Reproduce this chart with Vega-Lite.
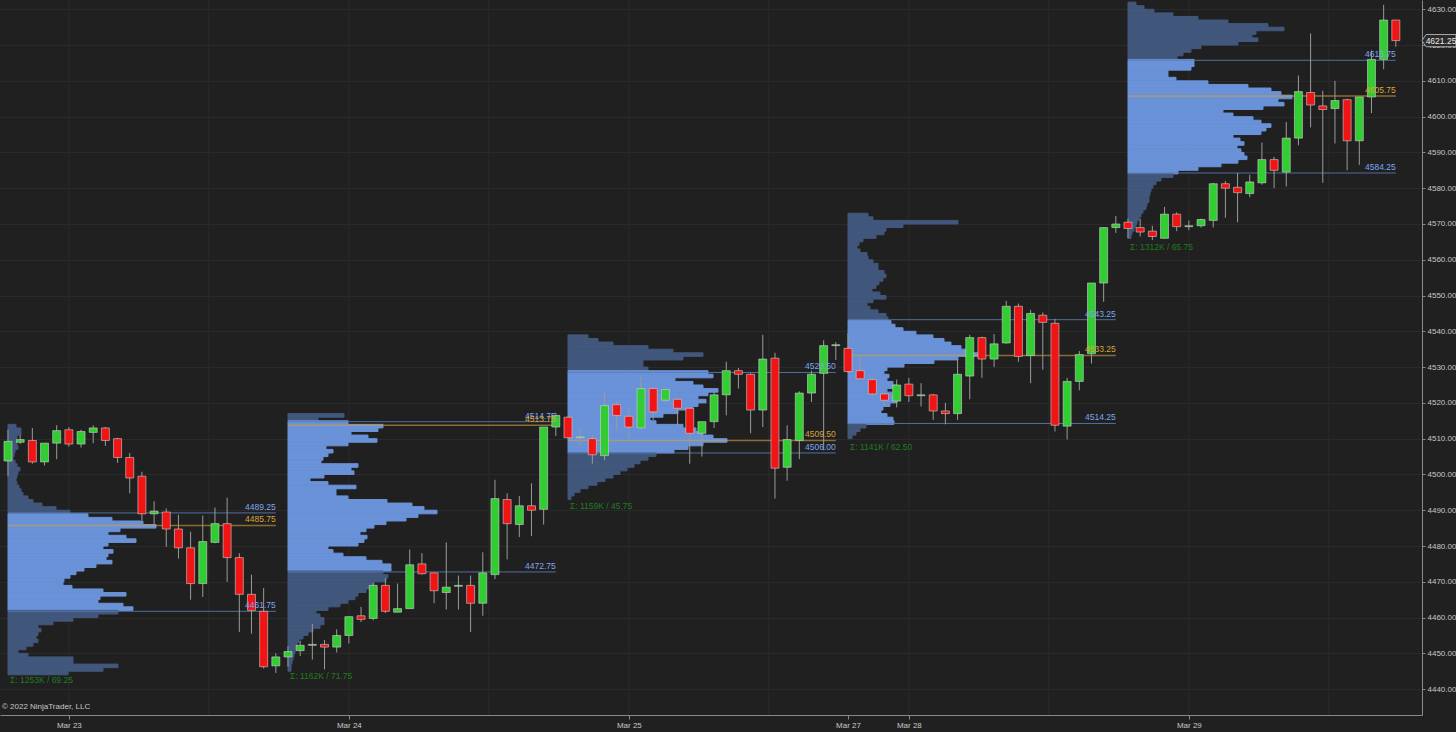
{
"$schema": "https://vega.github.io/schema/vega-lite/v6.json",
"width": 1422, "height": 715, "padding": {"left": 0, "top": 0, "right": 34, "bottom": 17}, "autosize": {"type": "none"},
"background": "#202020",
"config": {"view": {"stroke": null, "fill": "#202020"}, "font": "Liberation Sans"},
"datasets": {
"vg": [{"t":5},{"t":16.5},{"t":28},{"t":39.5},{"t":51},{"t":62.5},{"t":74},{"t":85.5},{"t":97},{"t":108.5}],
"sess": [
{"d":0,"s":0,"vah":4489.25,"poc":4485.75,"val":4461.75,"lo":4444.5,"sig":"Σ: 1253K / 69.25"},
{"d":1,"s":23,"vah":4514.75,"poc":4513.75,"val":4472.75,"lo":4445.5,"sig":"Σ: 1162K / 71.75"},
{"d":2,"s":46,"vah":4528.5,"poc":4509.5,"val":4506.0,"lo":4493.25,"sig":"Σ: 1159K / 45.75"},
{"d":3,"s":69,"vah":4543.25,"poc":4533.25,"val":4514.25,"lo":4509.75,"sig":"Σ: 1141K / 62.50"},
{"d":4,"s":92,"vah":4615.75,"poc":4605.75,"val":4584.25,"lo":4565.5,"sig":"Σ: 1312K / 65.75"}
],
"prof": [
{"d":0,"p":4513,"v":8},{"d":0,"p":4512,"v":13},{"d":0,"p":4511,"v":13},{"d":0,"p":4510,"v":9},{"d":0,"p":4509,"v":7},{"d":0,"p":4508,"v":9},{"d":0,"p":4507,"v":10},{"d":0,"p":4506,"v":7},{"d":0,"p":4505,"v":6},{"d":0,"p":4504,"v":5},{"d":0,"p":4503,"v":7},{"d":0,"p":4502,"v":9},{"d":0,"p":4501,"v":12},{"d":0,"p":4500,"v":10},{"d":0,"p":4499,"v":9},{"d":0,"p":4498,"v":8},{"d":0,"p":4497,"v":9},{"d":0,"p":4496,"v":11},{"d":0,"p":4495,"v":13},{"d":0,"p":4494,"v":15},{"d":0,"p":4493,"v":20},{"d":0,"p":4492,"v":25},{"d":0,"p":4491,"v":34},{"d":0,"p":4490,"v":48},{"d":0,"p":4489,"v":62},{"d":0,"p":4488,"v":80},{"d":0,"p":4487,"v":104},{"d":0,"p":4486,"v":135},{"d":0,"p":4485,"v":148},{"d":0,"p":4484,"v":112},{"d":0,"p":4483,"v":100},{"d":0,"p":4482,"v":118},{"d":0,"p":4481,"v":128},{"d":0,"p":4480,"v":100},{"d":0,"p":4479,"v":95},{"d":0,"p":4478,"v":105},{"d":0,"p":4477,"v":100},{"d":0,"p":4476,"v":98},{"d":0,"p":4475,"v":104},{"d":0,"p":4474,"v":88},{"d":0,"p":4473,"v":76},{"d":0,"p":4472,"v":68},{"d":0,"p":4471,"v":62},{"d":0,"p":4470,"v":56},{"d":0,"p":4469,"v":55},{"d":0,"p":4468,"v":64},{"d":0,"p":4467,"v":95},{"d":0,"p":4466,"v":118},{"d":0,"p":4465,"v":92},{"d":0,"p":4464,"v":90},{"d":0,"p":4463,"v":115},{"d":0,"p":4462,"v":125},{"d":0,"p":4461,"v":110},{"d":0,"p":4460,"v":90},{"d":0,"p":4459,"v":65},{"d":0,"p":4458,"v":45},{"d":0,"p":4457,"v":30},{"d":0,"p":4456,"v":33},{"d":0,"p":4455,"v":30},{"d":0,"p":4454,"v":28},{"d":0,"p":4453,"v":30},{"d":0,"p":4452,"v":25},{"d":0,"p":4451,"v":18},{"d":0,"p":4450,"v":10},{"d":0,"p":4449,"v":20},{"d":0,"p":4448,"v":65},{"d":0,"p":4447,"v":65},{"d":0,"p":4446,"v":110},{"d":0,"p":4445,"v":95},{"d":0,"p":4444,"v":60},
{"d":1,"p":4516,"v":56},{"d":1,"p":4515,"v":30},{"d":1,"p":4514,"v":60},{"d":1,"p":4513,"v":95},{"d":1,"p":4512,"v":90},{"d":1,"p":4511,"v":63},{"d":1,"p":4510,"v":80},{"d":1,"p":4509,"v":89},{"d":1,"p":4508,"v":60},{"d":1,"p":4507,"v":38},{"d":1,"p":4506,"v":45},{"d":1,"p":4505,"v":40},{"d":1,"p":4504,"v":35},{"d":1,"p":4503,"v":33},{"d":1,"p":4502,"v":70},{"d":1,"p":4501,"v":63},{"d":1,"p":4500,"v":66},{"d":1,"p":4499,"v":36},{"d":1,"p":4498,"v":22},{"d":1,"p":4497,"v":40},{"d":1,"p":4496,"v":68},{"d":1,"p":4495,"v":48},{"d":1,"p":4494,"v":48},{"d":1,"p":4493,"v":60},{"d":1,"p":4492,"v":99},{"d":1,"p":4491,"v":124},{"d":1,"p":4490,"v":136},{"d":1,"p":4489,"v":149},{"d":1,"p":4488,"v":130},{"d":1,"p":4487,"v":118},{"d":1,"p":4486,"v":98},{"d":1,"p":4485,"v":86},{"d":1,"p":4484,"v":78},{"d":1,"p":4483,"v":72},{"d":1,"p":4482,"v":79},{"d":1,"p":4481,"v":76},{"d":1,"p":4480,"v":70},{"d":1,"p":4479,"v":40},{"d":1,"p":4478,"v":45},{"d":1,"p":4477,"v":55},{"d":1,"p":4476,"v":78},{"d":1,"p":4475,"v":94},{"d":1,"p":4474,"v":103},{"d":1,"p":4473,"v":103},{"d":1,"p":4472,"v":95},{"d":1,"p":4471,"v":100},{"d":1,"p":4470,"v":98},{"d":1,"p":4469,"v":86},{"d":1,"p":4468,"v":85},{"d":1,"p":4467,"v":78},{"d":1,"p":4466,"v":70},{"d":1,"p":4465,"v":67},{"d":1,"p":4464,"v":60},{"d":1,"p":4463,"v":52},{"d":1,"p":4462,"v":40},{"d":1,"p":4461,"v":28},{"d":1,"p":4460,"v":32},{"d":1,"p":4459,"v":36},{"d":1,"p":4458,"v":36},{"d":1,"p":4457,"v":32},{"d":1,"p":4456,"v":25},{"d":1,"p":4455,"v":20},{"d":1,"p":4454,"v":15},{"d":1,"p":4453,"v":11},{"d":1,"p":4452,"v":9},{"d":1,"p":4451,"v":8},{"d":1,"p":4450,"v":7},{"d":1,"p":4449,"v":6},{"d":1,"p":4448,"v":5},{"d":1,"p":4447,"v":4},{"d":1,"p":4446,"v":3},{"d":1,"p":4445,"v":3},
{"d":2,"p":4538,"v":20},{"d":2,"p":4537,"v":30},{"d":2,"p":4536,"v":45},{"d":2,"p":4535,"v":80},{"d":2,"p":4534,"v":105},{"d":2,"p":4533,"v":135},{"d":2,"p":4532,"v":115},{"d":2,"p":4531,"v":75},{"d":2,"p":4530,"v":75},{"d":2,"p":4529,"v":80},{"d":2,"p":4528,"v":140},{"d":2,"p":4527,"v":145},{"d":2,"p":4526,"v":107},{"d":2,"p":4525,"v":125},{"d":2,"p":4524,"v":135},{"d":2,"p":4523,"v":150},{"d":2,"p":4522,"v":140},{"d":2,"p":4521,"v":130},{"d":2,"p":4520,"v":138},{"d":2,"p":4519,"v":130},{"d":2,"p":4518,"v":125},{"d":2,"p":4517,"v":110},{"d":2,"p":4516,"v":95},{"d":2,"p":4515,"v":82},{"d":2,"p":4514,"v":88},{"d":2,"p":4513,"v":115},{"d":2,"p":4512,"v":128},{"d":2,"p":4511,"v":135},{"d":2,"p":4510,"v":145},{"d":2,"p":4509,"v":159},{"d":2,"p":4508,"v":135},{"d":2,"p":4507,"v":120},{"d":2,"p":4506,"v":106},{"d":2,"p":4505,"v":88},{"d":2,"p":4504,"v":80},{"d":2,"p":4503,"v":72},{"d":2,"p":4502,"v":66},{"d":2,"p":4501,"v":59},{"d":2,"p":4500,"v":52},{"d":2,"p":4499,"v":45},{"d":2,"p":4498,"v":37},{"d":2,"p":4497,"v":29},{"d":2,"p":4496,"v":20},{"d":2,"p":4495,"v":12},{"d":2,"p":4494,"v":6},{"d":2,"p":4493,"v":3},
{"d":3,"p":4572,"v":20},{"d":3,"p":4571,"v":25},{"d":3,"p":4570,"v":110},{"d":3,"p":4569,"v":55},{"d":3,"p":4568,"v":38},{"d":3,"p":4567,"v":36},{"d":3,"p":4566,"v":28},{"d":3,"p":4565,"v":15},{"d":3,"p":4564,"v":11},{"d":3,"p":4563,"v":9},{"d":3,"p":4562,"v":12},{"d":3,"p":4561,"v":19},{"d":3,"p":4560,"v":20},{"d":3,"p":4559,"v":25},{"d":3,"p":4558,"v":30},{"d":3,"p":4557,"v":30},{"d":3,"p":4556,"v":36},{"d":3,"p":4555,"v":38},{"d":3,"p":4554,"v":35},{"d":3,"p":4553,"v":31},{"d":3,"p":4552,"v":28},{"d":3,"p":4551,"v":24},{"d":3,"p":4550,"v":32},{"d":3,"p":4549,"v":38},{"d":3,"p":4548,"v":25},{"d":3,"p":4547,"v":19},{"d":3,"p":4546,"v":22},{"d":3,"p":4545,"v":30},{"d":3,"p":4544,"v":38},{"d":3,"p":4543,"v":40},{"d":3,"p":4542,"v":43},{"d":3,"p":4541,"v":47},{"d":3,"p":4540,"v":55},{"d":3,"p":4539,"v":68},{"d":3,"p":4538,"v":85},{"d":3,"p":4537,"v":96},{"d":3,"p":4536,"v":103},{"d":3,"p":4535,"v":113},{"d":3,"p":4534,"v":123},{"d":3,"p":4533,"v":136},{"d":3,"p":4532,"v":110},{"d":3,"p":4531,"v":86},{"d":3,"p":4530,"v":56},{"d":3,"p":4529,"v":39},{"d":3,"p":4528,"v":36},{"d":3,"p":4527,"v":41},{"d":3,"p":4526,"v":39},{"d":3,"p":4525,"v":45},{"d":3,"p":4524,"v":49},{"d":3,"p":4523,"v":39},{"d":3,"p":4522,"v":44},{"d":3,"p":4521,"v":48},{"d":3,"p":4520,"v":49},{"d":3,"p":4519,"v":42},{"d":3,"p":4518,"v":35},{"d":3,"p":4517,"v":33},{"d":3,"p":4516,"v":39},{"d":3,"p":4515,"v":45},{"d":3,"p":4514,"v":46},{"d":3,"p":4513,"v":18},{"d":3,"p":4512,"v":12},{"d":3,"p":4511,"v":8},{"d":3,"p":4510,"v":4},
{"d":4,"p":4631,"v":8},{"d":4,"p":4630,"v":16},{"d":4,"p":4629,"v":26},{"d":4,"p":4628,"v":45},{"d":4,"p":4627,"v":70},{"d":4,"p":4626,"v":100},{"d":4,"p":4625,"v":140},{"d":4,"p":4624,"v":156},{"d":4,"p":4623,"v":128},{"d":4,"p":4622,"v":124},{"d":4,"p":4621,"v":130},{"d":4,"p":4620,"v":110},{"d":4,"p":4619,"v":73},{"d":4,"p":4618,"v":63},{"d":4,"p":4617,"v":55},{"d":4,"p":4616,"v":49},{"d":4,"p":4615,"v":66},{"d":4,"p":4614,"v":66},{"d":4,"p":4613,"v":63},{"d":4,"p":4612,"v":40},{"d":4,"p":4611,"v":40},{"d":4,"p":4610,"v":48},{"d":4,"p":4609,"v":80},{"d":4,"p":4608,"v":120},{"d":4,"p":4607,"v":143},{"d":4,"p":4606,"v":153},{"d":4,"p":4605,"v":164},{"d":4,"p":4604,"v":150},{"d":4,"p":4603,"v":156},{"d":4,"p":4602,"v":135},{"d":4,"p":4601,"v":95},{"d":4,"p":4600,"v":105},{"d":4,"p":4599,"v":125},{"d":4,"p":4598,"v":133},{"d":4,"p":4597,"v":143},{"d":4,"p":4596,"v":138},{"d":4,"p":4595,"v":133},{"d":4,"p":4594,"v":105},{"d":4,"p":4593,"v":112},{"d":4,"p":4592,"v":116},{"d":4,"p":4591,"v":109},{"d":4,"p":4590,"v":113},{"d":4,"p":4589,"v":116},{"d":4,"p":4588,"v":119},{"d":4,"p":4587,"v":110},{"d":4,"p":4586,"v":93},{"d":4,"p":4585,"v":70},{"d":4,"p":4584,"v":50},{"d":4,"p":4583,"v":45},{"d":4,"p":4582,"v":33},{"d":4,"p":4581,"v":28},{"d":4,"p":4580,"v":25},{"d":4,"p":4579,"v":23},{"d":4,"p":4578,"v":22},{"d":4,"p":4577,"v":21},{"d":4,"p":4576,"v":21},{"d":4,"p":4575,"v":19},{"d":4,"p":4574,"v":18},{"d":4,"p":4573,"v":15},{"d":4,"p":4572,"v":13},{"d":4,"p":4571,"v":11},{"d":4,"p":4570,"v":9},{"d":4,"p":4569,"v":8},{"d":4,"p":4568,"v":6},{"d":4,"p":4567,"v":4},{"d":4,"p":4566,"v":3}
],
"cdl": [
{"i":0,"o":4503.75,"h":4512.5,"l":4499.5,"c":4509.25},{"i":1,"o":4509.0,"h":4511.0,"l":4508.5,"c":4509.75},{"i":2,"o":4509.5,"h":4513.0,"l":4503.0,"c":4503.5},{"i":3,"o":4503.5,"h":4508.75,"l":4502.5,"c":4508.75},{"i":4,"o":4508.75,"h":4513.75,"l":4504.25,"c":4512.25},{"i":5,"o":4512.5,"h":4513.25,"l":4507.75,"c":4508.5},{"i":6,"o":4508.5,"h":4512.5,"l":4507.5,"c":4512.0},{"i":7,"o":4511.75,"h":4513.75,"l":4508.75,"c":4513.0},{"i":8,"o":4513.0,"h":4513.25,"l":4508.0,"c":4509.5},{"i":9,"o":4510.0,"h":4510.25,"l":4503.25,"c":4504.75},{"i":10,"o":4504.75,"h":4506.0,"l":4494.75,"c":4499.0},{"i":11,"o":4499.5,"h":4500.75,"l":4487.25,"c":4489.0},{"i":12,"o":4489.0,"h":4492.5,"l":4485.5,"c":4489.75},{"i":13,"o":4489.5,"h":4490.5,"l":4479.75,"c":4484.75},{"i":14,"o":4484.75,"h":4488.75,"l":4476.5,"c":4479.5},{"i":15,"o":4479.5,"h":4484.0,"l":4465.0,"c":4469.5},{"i":16,"o":4469.5,"h":4488.5,"l":4465.75,"c":4481.25},{"i":17,"o":4481.0,"h":4490.75,"l":4480.75,"c":4486.25},{"i":18,"o":4486.25,"h":4493.5,"l":4470.0,"c":4476.75},{"i":19,"o":4476.75,"h":4478.0,"l":4456.0,"c":4466.5},{"i":20,"o":4466.5,"h":4472.0,"l":4455.5,"c":4462.0},{"i":21,"o":4461.75,"h":4468.25,"l":4445.75,"c":4446.25},{"i":22,"o":4446.5,"h":4450.0,"l":4444.5,"c":4449.0},
{"i":23,"o":4449.0,"h":4452.0,"l":4446.25,"c":4450.5},{"i":24,"o":4450.75,"h":4453.5,"l":4449.25,"c":4452.25},{"i":25,"o":4452.25,"h":4458.25,"l":4448.25,"c":4452.5},{"i":26,"o":4452.5,"h":4453.75,"l":4445.5,"c":4451.75},{"i":27,"o":4451.75,"h":4456.75,"l":4450.25,"c":4455.0},{"i":28,"o":4455.0,"h":4460.25,"l":4452.75,"c":4460.25},{"i":29,"o":4460.5,"h":4463.0,"l":4458.75,"c":4459.5},{"i":30,"o":4459.75,"h":4469.75,"l":4459.25,"c":4469.0},{"i":31,"o":4469.0,"h":4471.0,"l":4461.25,"c":4461.75},{"i":32,"o":4461.5,"h":4469.5,"l":4461.5,"c":4462.5},{"i":33,"o":4462.5,"h":4479.0,"l":4462.5,"c":4474.75},{"i":34,"o":4475.0,"h":4478.0,"l":4472.0,"c":4472.25},{"i":35,"o":4472.5,"h":4472.5,"l":4464.0,"c":4467.5},{"i":36,"o":4467.0,"h":4481.0,"l":4462.25,"c":4468.5},{"i":37,"o":4468.75,"h":4471.75,"l":4462.25,"c":4469.0},{"i":38,"o":4469.0,"h":4471.75,"l":4456.0,"c":4464.0},{"i":39,"o":4464.0,"h":4478.25,"l":4460.5,"c":4472.5},{"i":40,"o":4472.0,"h":4498.5,"l":4470.75,"c":4493.25},{"i":41,"o":4493.0,"h":4494.75,"l":4476.25,"c":4486.25},{"i":42,"o":4486.0,"h":4494.0,"l":4482.5,"c":4491.25},{"i":43,"o":4491.25,"h":4497.5,"l":4482.75,"c":4490.0},{"i":44,"o":4490.25,"h":4513.25,"l":4486.0,"c":4513.25},{"i":45,"o":4513.25,"h":4517.25,"l":4510.75,"c":4516.5},
{"i":46,"o":4516.0,"h":4516.25,"l":4510.0,"c":4510.25},{"i":47,"o":4510.25,"h":4513.0,"l":4508.25,"c":4510.5},{"i":48,"o":4510.0,"h":4511.0,"l":4503.0,"c":4505.5},{"i":49,"o":4505.25,"h":4523.0,"l":4504.0,"c":4519.25},{"i":50,"o":4519.5,"h":4520.25,"l":4512.5,"c":4516.5},{"i":51,"o":4516.25,"h":4518.5,"l":4510.0,"c":4513.25},{"i":52,"o":4513.0,"h":4527.25,"l":4512.5,"c":4524.0},{"i":53,"o":4524.0,"h":4524.25,"l":4515.25,"c":4517.5},{"i":54,"o":4520.75,"h":4524.0,"l":4520.0,"c":4523.75},{"i":55,"o":4521.0,"h":4521.25,"l":4513.5,"c":4518.5},{"i":56,"o":4518.5,"h":4518.75,"l":4503.0,"c":4511.5},{"i":57,"o":4511.5,"h":4514.75,"l":4505.0,"c":4514.75},{"i":58,"o":4514.75,"h":4523.0,"l":4513.0,"c":4522.25},{"i":59,"o":4522.25,"h":4531.5,"l":4516.5,"c":4529.0},{"i":60,"o":4529.0,"h":4529.75,"l":4524.0,"c":4528.0},{"i":61,"o":4528.0,"h":4528.25,"l":4511.5,"c":4518.0},{"i":62,"o":4518.0,"h":4539.0,"l":4513.25,"c":4532.25},{"i":63,"o":4532.5,"h":4534.0,"l":4493.25,"c":4501.75},{"i":64,"o":4502.0,"h":4513.75,"l":4498.25,"c":4509.75},{"i":65,"o":4509.5,"h":4523.25,"l":4504.25,"c":4522.75},{"i":66,"o":4522.75,"h":4529.0,"l":4520.25,"c":4528.0},{"i":67,"o":4528.25,"h":4537.5,"l":4506.75,"c":4536.0},{"i":68,"o":4536.0,"h":4537.0,"l":4532.0,"c":4536.25},
{"i":69,"o":4535.25,"h":4539.5,"l":4528.5,"c":4528.75},{"i":70,"o":4529.0,"h":4532.75,"l":4526.5,"c":4526.75},{"i":71,"o":4526.5,"h":4527.25,"l":4521.75,"c":4522.5},{"i":72,"o":4522.5,"h":4523.0,"l":4519.0,"c":4520.75},{"i":73,"o":4520.5,"h":4526.5,"l":4518.75,"c":4525.0},{"i":74,"o":4525.25,"h":4527.0,"l":4520.25,"c":4522.0},{"i":75,"o":4522.0,"h":4525.5,"l":4519.0,"c":4522.25},{"i":76,"o":4522.25,"h":4522.5,"l":4515.25,"c":4517.75},{"i":77,"o":4517.75,"h":4520.0,"l":4514.0,"c":4517.0},{"i":78,"o":4517.0,"h":4532.25,"l":4515.25,"c":4528.0},{"i":79,"o":4527.5,"h":4539.0,"l":4521.0,"c":4538.25},{"i":80,"o":4538.25,"h":4538.5,"l":4527.0,"c":4532.25},{"i":81,"o":4532.25,"h":4539.25,"l":4530.0,"c":4536.5},{"i":82,"o":4536.75,"h":4548.5,"l":4536.5,"c":4547.0},{"i":83,"o":4547.0,"h":4547.75,"l":4531.5,"c":4533.0},{"i":84,"o":4533.25,"h":4546.0,"l":4525.5,"c":4545.0},{"i":85,"o":4544.5,"h":4545.25,"l":4529.25,"c":4542.5},{"i":86,"o":4542.25,"h":4543.5,"l":4512.0,"c":4513.75},{"i":87,"o":4513.5,"h":4527.0,"l":4509.75,"c":4526.0},{"i":88,"o":4526.0,"h":4534.5,"l":4523.5,"c":4533.5},{"i":89,"o":4533.75,"h":4553.5,"l":4531.0,"c":4553.5},{"i":90,"o":4553.5,"h":4569.0,"l":4548.25,"c":4569.0},{"i":91,"o":4569.0,"h":4572.25,"l":4567.5,"c":4570.0},
{"i":92,"o":4570.5,"h":4571.5,"l":4566.0,"c":4568.75},{"i":93,"o":4569.0,"h":4571.5,"l":4566.5,"c":4567.75},{"i":94,"o":4568.0,"h":4569.5,"l":4565.5,"c":4566.5},{"i":95,"o":4566.0,"h":4574.75,"l":4566.0,"c":4572.75},{"i":96,"o":4572.75,"h":4573.25,"l":4568.0,"c":4569.25},{"i":97,"o":4569.25,"h":4571.0,"l":4568.25,"c":4569.5},{"i":98,"o":4569.5,"h":4571.5,"l":4569.0,"c":4571.25},{"i":99,"o":4571.0,"h":4581.5,"l":4569.0,"c":4581.25},{"i":100,"o":4581.25,"h":4582.0,"l":4571.75,"c":4580.0},{"i":101,"o":4580.25,"h":4584.25,"l":4570.5,"c":4578.75},{"i":102,"o":4578.5,"h":4583.75,"l":4577.5,"c":4581.75},{"i":103,"o":4581.5,"h":4592.75,"l":4581.0,"c":4588.0},{"i":104,"o":4588.0,"h":4588.75,"l":4580.0,"c":4585.0},{"i":105,"o":4584.5,"h":4598.5,"l":4580.5,"c":4594.0},{"i":106,"o":4594.0,"h":4611.5,"l":4592.0,"c":4607.0},{"i":107,"o":4606.75,"h":4623.25,"l":4597.0,"c":4603.25},{"i":108,"o":4603.0,"h":4607.25,"l":4581.5,"c":4602.0},{"i":109,"o":4602.25,"h":4610.0,"l":4592.5,"c":4604.5},{"i":110,"o":4604.75,"h":4605.0,"l":4585.0,"c":4593.25},{"i":111,"o":4593.25,"h":4605.5,"l":4586.5,"c":4605.5},{"i":112,"o":4605.5,"h":4618.5,"l":4601.0,"c":4616.0},{"i":113,"o":4616.0,"h":4631.25,"l":4613.25,"c":4627.0},{"i":114,"o":4627.0,"h":4627.0,"l":4619.5,"c":4621.25}
],
"last": [{"p":4621.25}],
"copy": [{"t":"© 2022 NinjaTrader, LLC"}]
},
"layer": [
{"data": {"name": "vg"}, "mark": {"type": "rule", "color": "#2b2b2b", "strokeWidth": 1},
 "encoding": {"x": {"field": "t", "type": "quantitative", "title": null,
   "scale": {"domain": [-0.657, 116.15], "nice": false, "zero": false, "padding": 0},
   "axis": {"values": [5, 28, 51, 69, 74, 97], "labelExpr": "datum.value == 5 ? 'Mar 23' : datum.value == 28 ? 'Mar 24' : datum.value == 51 ? 'Mar 25' : datum.value == 69 ? 'Mar 27' : datum.value == 74 ? 'Mar 28' : 'Mar 29'", "tickSize": 4, "tickColor": "#8a8a8a", "domainColor": "#8a8a8a", "labelColor": "#c8c8c8", "labelFontSize": 8, "labelPadding": 2, "labelOverlap": false, "labelFlush": false, "grid": false, "title": null}}}},
{"data": {"name": "prof"},
 "transform": [
   {"lookup": "d", "from": {"data": {"name": "sess"}, "key": "d", "fields": ["s", "vah", "val"]}},
   {"calculate": "datum.s + datum.v / 12.174", "as": "xe"},
   {"calculate": "datum.p + 1", "as": "p2"}
 ],
 "mark": {"type": "rect", "strokeWidth": 1},
 "encoding": {
   "x": {"field": "s", "type": "quantitative", "title": null},
   "x2": {"field": "xe"},
   "y": {"field": "p", "type": "quantitative", "title": null,
     "scale": {"domain": [4432.77, 4632.6], "nice": false, "zero": false, "padding": 0},
     "axis": {"orient": "right", "values": [4440,4450,4460,4470,4480,4490,4500,4510,4520,4530,4540,4550,4560,4570,4580,4590,4600,4610,4620,4630], "tickCount": 20, "format": ".2f", "tickSize": 3, "tickColor": "#8a8a8a", "domainColor": "#8a8a8a", "labelColor": "#c8c8c8", "labelFontSize": 8, "labelPadding": 2, "labelOverlap": false, "grid": true, "gridColor": "#2a2a2a", "title": null}},
   "y2": {"field": "p2"},
   "color": {"condition": {"test": "datum.p + 0.5 >= datum.val && datum.p + 0.5 <= datum.vah", "value": "#6a92d8"}, "value": "#42577c"},
   "stroke": {"condition": {"test": "datum.p + 0.5 >= datum.val && datum.p + 0.5 <= datum.vah", "value": "#6a92d8"}, "value": "#42577c"}
 }},
{"data": {"name": "sess"},
 "transform": [{"fold": ["vah", "val"], "as": ["k", "pv"]}, {"calculate": "datum.s + 22", "as": "xe"}],
 "mark": {"type": "rule", "color": "#5a7cb4", "strokeWidth": 1, "opacity": 0.85},
 "encoding": {"x": {"field": "s", "type": "quantitative", "title": null}, "x2": {"field": "xe"}, "y": {"field": "pv", "type": "quantitative", "title": null}}},
{"data": {"name": "sess"},
 "transform": [{"calculate": "datum.s + 22", "as": "xe"}],
 "mark": {"type": "rule", "color": "#d2a03c", "strokeWidth": 1.5, "opacity": 0.6},
 "encoding": {"x": {"field": "s", "type": "quantitative", "title": null}, "x2": {"field": "xe"}, "y": {"field": "poc", "type": "quantitative", "title": null}}},
{"data": {"name": "cdl"}, "mark": {"type": "rule", "color": "#9a9a9a", "strokeWidth": 1},
 "encoding": {"x": {"field": "i", "type": "quantitative", "title": null}, "y": {"field": "l", "type": "quantitative", "title": null}, "y2": {"field": "h"}}},
{"data": {"name": "cdl"}, "mark": {"type": "bar", "width": 8, "stroke": "#d0d0d0", "strokeWidth": 0.6},
 "encoding": {"x": {"field": "i", "type": "quantitative", "title": null}, "y": {"field": "o", "type": "quantitative", "title": null}, "y2": {"field": "c"},
   "color": {"condition": {"test": "datum.c >= datum.o", "value": "#32cd32"}, "value": "#f01414"}}},
{"data": {"name": "sess"},
 "transform": [{"fold": ["vah", "val"], "as": ["k", "pv"]}, {"calculate": "datum.s + 22", "as": "xe"}, {"calculate": "format(datum.pv, '.2f')", "as": "lbl"}],
 "mark": {"type": "text", "align": "right", "baseline": "bottom", "dy": -1, "fontSize": 8.5, "color": "#7ea6f0"},
 "encoding": {"x": {"field": "xe", "type": "quantitative", "title": null}, "y": {"field": "pv", "type": "quantitative", "title": null}, "text": {"field": "lbl"}}},
{"data": {"name": "sess"},
 "transform": [{"calculate": "datum.s + 22", "as": "xe"}, {"calculate": "format(datum.poc, '.2f')", "as": "lbl"}],
 "mark": {"type": "text", "align": "right", "baseline": "bottom", "dy": -1, "fontSize": 8.5, "color": "#d6a53c"},
 "encoding": {"x": {"field": "xe", "type": "quantitative", "title": null}, "y": {"field": "poc", "type": "quantitative", "title": null}, "text": {"field": "lbl"}}},
{"data": {"name": "sess"},
 "mark": {"type": "text", "align": "left", "baseline": "top", "dx": 2, "dy": 3, "fontSize": 8.5, "color": "#1f7d1f"},
 "encoding": {"x": {"field": "s", "type": "quantitative", "title": null}, "y": {"field": "lo", "type": "quantitative", "title": null}, "text": {"field": "sig"}}},
{"data": {"name": "copy"},
 "mark": {"type": "text", "align": "left", "baseline": "middle", "fontSize": 8, "color": "#c8c8c8"},
 "encoding": {"x": {"datum": -0.5, "type": "quantitative"}, "y": {"datum": 4435, "type": "quantitative"}, "text": {"field": "t"}}},
{"data": {"name": "last"},
 "mark": {"type": "point", "shape": "M0,0L0.24,-0.36L2,-0.36L2,0.36L0.24,0.36Z", "size": 1156, "filled": true, "fill": "#2a2a2a", "stroke": "#a8a8a8", "strokeWidth": 1, "opacity": 1},
 "encoding": {"x": {"datum": 116.15, "type": "quantitative"}, "y": {"field": "p", "type": "quantitative", "title": null}}},
{"data": {"name": "last"},
 "transform": [{"calculate": "format(datum.p, '.2f')", "as": "lbl"}],
 "mark": {"type": "text", "align": "center", "baseline": "middle", "dx": 19, "fontSize": 8.5, "color": "#e8e8e8"},
 "encoding": {"x": {"datum": 116.15, "type": "quantitative"}, "y": {"field": "p", "type": "quantitative", "title": null}, "text": {"field": "lbl"}}}
]
}
